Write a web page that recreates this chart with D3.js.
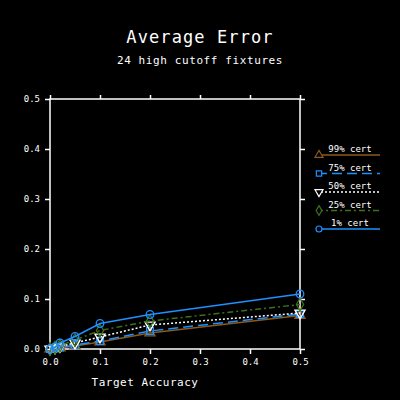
<!DOCTYPE html>
<html>
<head>
<meta charset="utf-8">
<script src="https://cdn.jsdelivr.net/npm/d3@7"></script>
<style>
  body { margin: 0; background: #000; }
  svg { display: block; background: #000; }
  text { fill: #fff; font-family: "DejaVu Sans Mono", monospace; }
  .axis path { display: none; }
  .axis line { stroke: #fff; stroke-width: 1.5; }
  .axis text { font-size: 9px; fill: #fff; }
</style>
</head>
<body>
<div class="chart"></div>
<script>
// data
var accuracy = [0.0, 0.01, 0.02, 0.05, 0.1, 0.2, 0.5];
var seriesNames = ["99% cert", "75% cert", "50% cert", "25% cert", "1% cert"];
var cert99 = [0.0, 0.001, 0.002, 0.006, 0.014, 0.032, 0.067];
var cert75 = [0.0, 0.001, 0.003, 0.008, 0.016, 0.036, 0.070];
var cert50 = [0.0, 0.002, 0.005, 0.012, 0.024, 0.048, 0.072];
var cert25 = [0.0, 0.003, 0.007, 0.018, 0.037, 0.056, 0.089];
var cert1  = [0.0, 0.004, 0.012, 0.025, 0.051, 0.069, 0.110];
var xTicks = [0, 0.1, 0.2, 0.3, 0.4, 0.5];
var yTicks = [0, 0.1, 0.2, 0.3, 0.4, 0.5];

function drawChart() {
    var width = 400, height = 400;
    var margin = {top: 99, right: 100, bottom: 51, left: 50};

    var svg = d3.select(".chart").append("svg")
        .attr("width", width)
        .attr("height", height);

    var x = d3.scaleLinear().domain([0, 0.5]).range([margin.left, width - margin.right]);
    var y = d3.scaleLinear().domain([0, 0.5]).range([height - margin.bottom, margin.top]);

    // titles
    svg.append("text")
        .attr("x", 200).attr("y", 43)
        .attr("text-anchor", "middle")
        .style("font-size", "17px")
        .style("letter-spacing", "1.1px")
        .text("Average Error");

    svg.append("text")
        .attr("x", 200).attr("y", 64)
        .attr("text-anchor", "middle")
        .style("font-size", "11px")
        .style("letter-spacing", "0.6px")
        .text("24 high cutoff fixtures");

    svg.append("text")
        .attr("x", 145).attr("y", 386)
        .attr("text-anchor", "middle")
        .style("font-size", "11px")
        .style("letter-spacing", "0.5px")
        .text("Target Accuracy");

    // frame
    svg.append("rect")
        .attr("x", x(0)).attr("y", y(0.5))
        .attr("width", x(0.5) - x(0))
        .attr("height", y(0) - y(0.5))
        .attr("fill", "none")
        .attr("stroke", "#fff")
        .attr("stroke-width", 1.5);

    // axes, ticks pointing out
    svg.append("g").attr("class", "axis")
        .attr("transform", "translate(0," + y(0) + ")")
        .call(d3.axisBottom(x).tickValues(xTicks).tickSize(5).tickPadding(5).tickFormat(d3.format(".1f")));
    svg.append("g").attr("class", "axis")
        .attr("transform", "translate(0," + y(0.5) + ")")
        .call(d3.axisTop(x).tickValues(xTicks).tickSize(4).tickFormat(""));
    svg.append("g").attr("class", "axis")
        .attr("transform", "translate(" + x(0) + ",0)")
        .call(d3.axisLeft(y).tickValues(yTicks).tickSize(5).tickPadding(5).tickFormat(d3.format(".1f")));
    svg.append("g").attr("class", "axis")
        .attr("transform", "translate(" + x(0.5) + ",0)")
        .call(d3.axisRight(y).tickValues(yTicks).tickSize(5).tickFormat(""));

    var series = [
        {name: seriesNames[0], values: cert99, color: "#8b5a1c", dash: null, symbol: d3.symbolTriangle, rot: 0},
        {name: seriesNames[1], values: cert75, color: "#1e90ff", dash: "10,5", symbol: d3.symbolSquare, rot: 0},
        {name: seriesNames[2], values: cert50, color: "#ffffff", dash: "2,2", symbol: d3.symbolTriangle, rot: 180},
        {name: seriesNames[3], values: cert25, color: "#3f7018", dash: "6,3,2,3", symbol: d3.symbolDiamond, rot: 0},
        {name: seriesNames[4], values: cert1,  color: "#1e90ff", dash: null, symbol: d3.symbolCircle, rot: 0}
    ];

    var line = d3.line()
        .x(function(d, i) { return x(accuracy[i]); })
        .y(function(d) { return y(d); });

    var sym = function(s, size) {
        return d3.symbol().type(s.symbol).size(size)();
    };

    series.forEach(function(s) {
        svg.append("path")
            .attr("d", line(s.values))
            .attr("fill", "none")
            .attr("stroke", s.color)
            .attr("stroke-width", 1.5)
            .attr("stroke-dasharray", s.dash);

        svg.append("g").selectAll("path")
            .data(s.values)
            .enter()
            .append("path")
            .attr("d", sym(s, 45))
            .attr("transform", function(d, i) {
                return "translate(" + x(accuracy[i]) + "," + y(d) + ") rotate(" + s.rot + ")";
            })
            .attr("fill", "none")
            .attr("stroke", s.color)
            .attr("stroke-width", 1.3);
    });

    // legend
    var legend = svg.append("g");
    series.forEach(function(s, i) {
        var ly = 155 + i * 18.5;
        legend.append("text")
            .attr("x", 350).attr("y", ly - 3)
            .attr("text-anchor", "middle")
            .style("font-size", "9px")
            .text(s.name);
        legend.append("line")
            .attr("x1", 317).attr("x2", 380)
            .attr("y1", ly).attr("y2", ly)
            .attr("stroke", s.color)
            .attr("stroke-width", 1.5)
            .attr("stroke-dasharray", s.dash);
        legend.append("path")
            .attr("d", sym(s, 28))
            .attr("transform", "translate(319," + ly + ") rotate(" + s.rot + ")")
            .attr("fill", "#000")
            .attr("stroke", s.color)
            .attr("stroke-width", 1.2);
    });
}

drawChart();
</script>
</body>
</html>
